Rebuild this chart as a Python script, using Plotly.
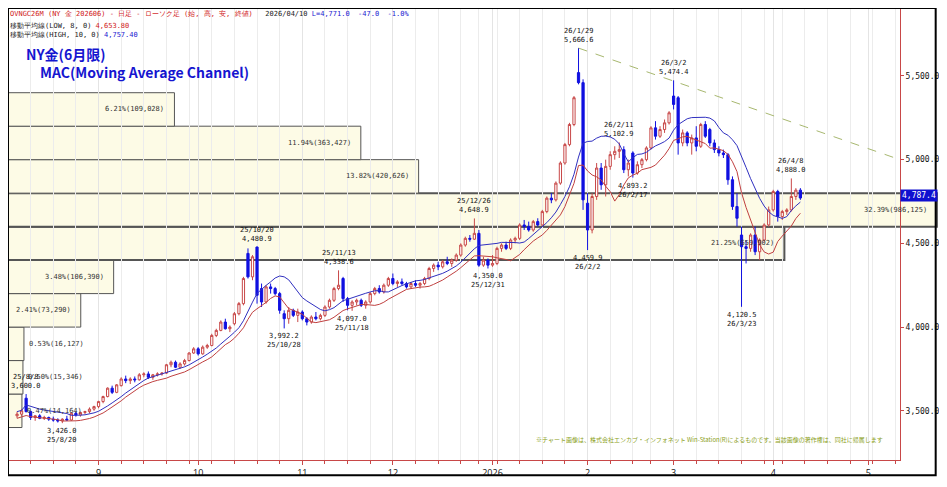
import pandas as pd
import plotly.graph_objects as go

# daily OHLC (business days, some holidays removed)
opens = [3470, 3480, 3575,
         3495, 3460, 3470, 3455, 3460,
         3450, 3445, 3440, 3450, 3445,
         3485, 3475, 3490, 3495, 3510,
         3525, 3555, 3585, 3635, 3610,
         3650, 3690, 3680, 3690, 3685,
         3715, 3720, 3700, 3715, 3720,
         3725, 3775, 3790, 3760, 3780,
         3800, 3845, 3870, 3840, 3880,
         3890, 3950, 3980, 4030, 3990,
         4020, 4080, 4140, 4440, 4300,
         4478, 4230, 4150, 4240, 4230,
         4200, 4080, 4050, 4100, 4070,
         4090, 4050, 4030, 4060, 4050,
         4070, 4120, 4160, 4230, 4290,
         4170, 4130, 4150, 4160, 4130,
         4150, 4200, 4230, 4210, 4250,
         4290, 4260, 4270, 4260, 4240,
         4260, 4250, 4260, 4290, 4350,
         4370, 4360, 4390, 4380, 4400,
         4430, 4490, 4530, 4525,
         4560, 4370, 4400, 4370,
         4380, 4470, 4490, 4470, 4520,
         4530, 4610, 4600, 4580, 4630,
         4610, 4690, 4770, 4760, 4860,
         4980, 5090, 5210, 5520, 5460,
         4740, 4580, 4780, 4950, 4850,
         4960, 5030, 5050, 5060, 4940,
         5040, 4920, 4970, 5000,
         5070, 5190, 5140, 5180, 5220,
         5380, 5370, 5100, 5160, 5100,
         5130, 5080, 5210, 5180, 5100,
         5060, 5040, 5030, 4880, 4720,
         4550, 4480, 4470, 4550, 4450,
         4520, 4610, 4700, 4810,
         4660, 4690, 4700, 4780, 4818]
highs = [3495, 3510, 3600,
         3500, 3475, 3480, 3470, 3465,
         3465, 3455, 3455, 3470, 3490,
         3495, 3495, 3500, 3520, 3530,
         3560, 3590, 3640, 3650, 3660,
         3700, 3710, 3700, 3705, 3725,
         3730, 3735, 3720, 3730, 3730,
         3780, 3800, 3800, 3790, 3810,
         3850, 3880, 3880, 3890, 3900,
         3960, 3990, 4040, 4050, 4010,
         4090, 4150, 4300, 4470, 4430,
         4481, 4260, 4250, 4260, 4240,
         4210, 4100, 4120, 4110, 4110,
         4100, 4060, 4070, 4090, 4080,
         4130, 4170, 4240, 4339, 4300,
         4180, 4160, 4170, 4170, 4160,
         4210, 4240, 4250, 4260, 4300,
         4320, 4280, 4290, 4270, 4270,
         4280, 4270, 4300, 4360, 4380,
         4390, 4400, 4420, 4410, 4440,
         4500, 4540, 4550, 4649,
         4580, 4420, 4410, 4430,
         4480, 4500, 4510, 4530, 4540,
         4620, 4640, 4630, 4640, 4650,
         4700, 4780, 4800, 4870, 4990,
         5100, 5220, 5380, 5667, 5480,
         4800, 4800, 4980, 4980, 5000,
         5050, 5080, 5103, 5080, 5000,
         5050, 4990, 5010, 5080,
         5200, 5230, 5200, 5240, 5290,
         5474, 5380, 5180, 5170, 5150,
         5200, 5220, 5230, 5190, 5120,
         5080, 5060, 5040, 4900, 4800,
         4600, 4520, 4560, 4600, 4530,
         4620, 4720, 4820, 4820,
         4700, 4710, 4888, 4830, 4830]
lows = [3455, 3470, 3490,
        3445, 3440, 3450, 3445, 3440,
        3435, 3430, 3426, 3440, 3440,
        3465, 3465, 3480, 3485, 3500,
        3515, 3545, 3580, 3600, 3605,
        3645, 3665, 3660, 3670, 3680,
        3700, 3690, 3685, 3705, 3710,
        3720, 3760, 3755, 3750, 3770,
        3795, 3840, 3830, 3835, 3870,
        3885, 3940, 3975, 3985, 3970,
        4010, 4070, 4130, 4290, 4280,
        4140, 4120, 4140, 4200, 4190,
        4080, 3992, 4020, 4060, 4030,
        4040, 4010, 4020, 4040, 4040,
        4060, 4110, 4150, 4220, 4150,
        4100, 4097, 4130, 4120, 4110,
        4140, 4190, 4200, 4200, 4240,
        4250, 4240, 4250, 4230, 4230,
        4240, 4230, 4250, 4280, 4330,
        4340, 4350, 4370, 4360, 4390,
        4420, 4480, 4510, 4520,
        4360, 4360, 4350, 4360,
        4370, 4450, 4460, 4460, 4500,
        4520, 4580, 4570, 4570, 4600,
        4600, 4680, 4740, 4750, 4850,
        4970, 5080, 5200, 5450, 4700,
        4460, 4560, 4760, 4820, 4780,
        4940, 5000, 5010, 4920, 4900,
        4893, 4910, 4950, 4990,
        5060, 5120, 5130, 5160, 5210,
        5300, 5030, 5080, 5080, 5030,
        5050, 5070, 5130, 5080, 5040,
        5020, 5010, 4850, 4700, 4600,
        4121, 4380, 4450, 4430, 4400,
        4510, 4600, 4690, 4630,
        4640, 4670, 4690, 4760, 4760]
closes = [3480, 3500, 3495,
          3460, 3470, 3455, 3460, 3450,
          3445, 3440, 3450, 3445, 3485,
          3475, 3490, 3495, 3510, 3525,
          3555, 3585, 3635, 3610, 3655,
          3690, 3680, 3690, 3685, 3715,
          3720, 3700, 3715, 3720, 3725,
          3775, 3790, 3760, 3780, 3800,
          3845, 3870, 3840, 3880, 3890,
          3950, 3980, 4030, 3990, 4000,
          4080, 4140, 4290, 4300, 4420,
          4190, 4150, 4240, 4230, 4200,
          4100, 4050, 4100, 4070, 4090,
          4050, 4030, 4060, 4050, 4070,
          4120, 4160, 4230, 4250, 4170,
          4130, 4150, 4160, 4130, 4150,
          4200, 4230, 4210, 4250, 4290,
          4260, 4270, 4260, 4240, 4260,
          4250, 4260, 4290, 4350, 4370,
          4360, 4390, 4380, 4400, 4430,
          4490, 4530, 4525, 4560,
          4370, 4400, 4370, 4380,
          4470, 4490, 4470, 4520, 4530,
          4610, 4600, 4580, 4630, 4610,
          4690, 4770, 4760, 4860, 4980,
          5090, 5210, 5370, 5460, 4760,
          4580, 4780, 4950, 4850, 4960,
          5030, 5050, 5060, 4940, 4980,
          4920, 4970, 5000, 5070,
          5190, 5140, 5180, 5220, 5280,
          5330, 5100, 5160, 5100, 5130,
          5080, 5210, 5140, 5100, 5060,
          5040, 5030, 4880, 4720, 4650,
          4480, 4470, 4550, 4450, 4520,
          4610, 4700, 4810, 4660,
          4690, 4700, 4780, 4818, 4771]

holidays = ['2025-12-25', '2026-01-01', '2026-02-16', '2026-04-03']
dates = [d for d in pd.bdate_range('2025-08-06', '2026-04-10')
         if d.strftime('%Y-%m-%d') not in holidays]

# price bands (volume by price)
band_lows = [3400, 3600, 3800, 4000, 4200, 4400, 4600, 4800, 5000, 5200]
band_labels = ['0.47%(14,164)', '0.50%(15,346)', '0.53%(16,127)', '2.41%(73,290)',
               '3.48%(106,390)', '21.25%(659,902)', '32.39%(986,125)',
               '13.82%(420,626)', '11.94%(363,427)', '6.21%(109,028)']
band_px = [14, 15, 16, 73, 106, 779, 932, 412, 354, 167]

# marked highs / lows
mark_dates = ['2025-08-08', '2025-08-20', '2025-10-20', '2025-10-28', '2025-11-13',
              '2025-11-18', '2025-12-26', '2025-12-31', '2026-01-29', '2026-02-02',
              '2026-02-11', '2026-02-17', '2026-03-02', '2026-03-23', '2026-04-08']
mark_prices = [3600.0, 3426.0, 4480.9, 3992.2, 4338.6, 4097.0, 4648.9, 4350.0,
               5666.6, 4459.9, 5102.9, 4893.2, 5474.4, 4120.5, 4888.0]
mark_up = [True, False, True, False, True, False, True, False,
           True, False, True, False, True, False, True]

trend_x = ['2026-01-29', '2026-05-12']
trend_y = [5666.6, 5000]

df = pd.DataFrame({'o': opens, 'h': highs, 'l': lows, 'c': closes}, index=dates)
ma_low = df['l'].rolling(8, min_periods=1).mean()
ma_high = df['h'].rolling(10, min_periods=1).mean()

PLOT_W = 895
fig = go.Figure()

for lo, lab, px in zip(band_lows, band_labels, band_px):
    thick = 2 if lo in (4400, 4600) else 1
    fig.add_shape(type='rect', xref='paper', yref='y', x0=0, x1=px / PLOT_W,
                  y0=lo, y1=lo + 200, fillcolor='#fdfbe6',
                  line=dict(color='#555555', width=thick), layer='below')
    if px > 60:
        fig.add_annotation(xref='paper', yref='y', x=(px - 8) / PLOT_W, y=lo + 100,
                           text=lab, showarrow=False, xanchor='right',
                           font=dict(size=7, color='#333', family='DejaVu Sans Mono'))
    else:
        fig.add_annotation(xref='paper', yref='y', x=(px + 3) / PLOT_W, y=lo + 100,
                           text=lab, showarrow=False, xanchor='left',
                           font=dict(size=7, color='#333', family='DejaVu Sans Mono'))

fig.add_trace(go.Candlestick(
    x=df.index, open=df['o'], high=df['h'], low=df['l'], close=df['c'],
    increasing=dict(line=dict(color='#c84848', width=1), fillcolor='#ffffff'),
    decreasing=dict(line=dict(color='#1010e0', width=1), fillcolor='#1010e0'),
    whiskerwidth=0, showlegend=False, hoverinfo='skip'))
fig.add_trace(go.Scatter(x=df.index, y=ma_high, mode='lines',
                         line=dict(color='#3030c0', width=1), showlegend=False))
fig.add_trace(go.Scatter(x=df.index, y=ma_low, mode='lines',
                         line=dict(color='#c04040', width=1), showlegend=False))
fig.add_trace(go.Scatter(x=trend_x, y=trend_y, mode='lines', cliponaxis=False,
                         line=dict(color='#a8b870', width=1, dash='dash'), showlegend=False))

for d, p, up in zip(mark_dates, mark_prices, mark_up):
    dt = pd.Timestamp(d)
    lab = f"{dt.year % 100}/{dt.month}/{dt.day}"
    val = f"{p:,.1f}"
    fig.add_annotation(x=d, y=p, text=(lab + '<br>' + val) if up else (val + '<br>' + lab),
                       showarrow=False, yanchor='bottom' if up else 'top',
                       yshift=2 if up else -2,
                       font=dict(size=7, color='#111', family='DejaVu Sans Mono'))

# header
fig.add_annotation(xref='paper', yref='paper', x=0.0, y=1.0, xanchor='left', yanchor='top',
                   text="<span style='color:#d02020'>OVNGC26M (NY 金 202606) - 日足 - ローソク足 (始, 高, 安, 終値)</span>"
                        "   2026/04/10 <span style='color:#2020d0'>L=4,771.0  -47.0  -1.0%</span>",
                   showarrow=False, align='left', font=dict(size=7, color='#222', family='DejaVu Sans Mono'))
fig.add_annotation(xref='paper', yref='paper', x=0.0, y=0.974, xanchor='left', yanchor='top',
                   text="移動平均線(LOW, 8, 0) <span style='color:#d02020'>4,653.80</span><br>"
                        "移動平均線(HIGH, 10, 0) <span style='color:#2020d0'>4,757.40</span>",
                   showarrow=False, align='left', font=dict(size=7, color='#222', family='DejaVu Sans Mono'))
fig.add_annotation(xref='paper', yref='paper', x=0.018, y=0.925, xanchor='left', yanchor='top',
                   text="<b>NY金(6月限)<br>　MAC(Moving Average Channel)</b>",
                   showarrow=False, align='left', font=dict(size=14, color='#1515d0', family='Noto Sans CJK JP'))
fig.add_annotation(xref='paper', yref='paper', x=0.59, y=0.03, xanchor='left', yanchor='bottom',
                   text="※チャート画像は、株式会社エンカブ・インフォネット Win-Station(R)によるものです。当該画像の著作権は、同社に帰属します",
                   showarrow=False, font=dict(size=6, color='#8aa020', family='Noto Sans CJK JP'))
# current price tag
fig.add_annotation(xref='paper', yref='y', x=1.0, y=4787.4, xanchor='left', text='4,787.4',
                   showarrow=False, bgcolor='#1010d0', borderpad=1,
                   font=dict(size=8, color='white', family='DejaVu Sans Mono'))

month_vals = ['2025-09-01', '2025-10-01', '2025-11-03', '2025-12-01', '2026-01-02',
              '2026-02-02', '2026-03-02', '2026-04-01', '2026-05-01']
month_text = ['9', '10', '11', '12', '2026', '2', '3', '4', '5']

fig.update_layout(
    width=931, height=471, paper_bgcolor='white', plot_bgcolor='white',
    margin=dict(l=0, r=36, t=0, b=16),
    xaxis=dict(type='date', range=['2025-08-04', '2026-05-12'],
               rangebreaks=[dict(bounds=['sat', 'mon']), dict(values=holidays)],
               tickvals=month_vals, ticktext=month_text, ticks='outside', ticklen=4,
               tickcolor='#c84848', showline=True, linecolor='#c84848', linewidth=1,
               showgrid=True, gridcolor='#e4e4e4', rangeslider=dict(visible=False),
               minor=dict(dtick=7 * 86400000, tick0='2025-08-04', showgrid=True, gridcolor='#ececec',
                          ticks='outside', ticklen=3, tickcolor='#c84848'),
               tickfont=dict(size=9, color='#111'), fixedrange=True),
    yaxis=dict(side='right', range=[3206, 5906], tickvals=[3500, 4000, 4500, 5000, 5500],
               ticktext=['3,500.0', '4,000.0', '4,500.0', '5,000.0', '5,500.0'],
               ticks='outside', ticklen=3, tickcolor='#c84848', showline=True,
               linecolor='#c84848', showgrid=False, zeroline=False,
               tickfont=dict(size=8, color='#111', family='DejaVu Sans Mono')),
    showlegend=False,
)
fig.add_shape(type='rect', xref='paper', yref='paper', x0=0, x1=1.04, y0=-0.034, y1=1.0,
              line=dict(color='black', width=2))
fig.write_html("out.html")
